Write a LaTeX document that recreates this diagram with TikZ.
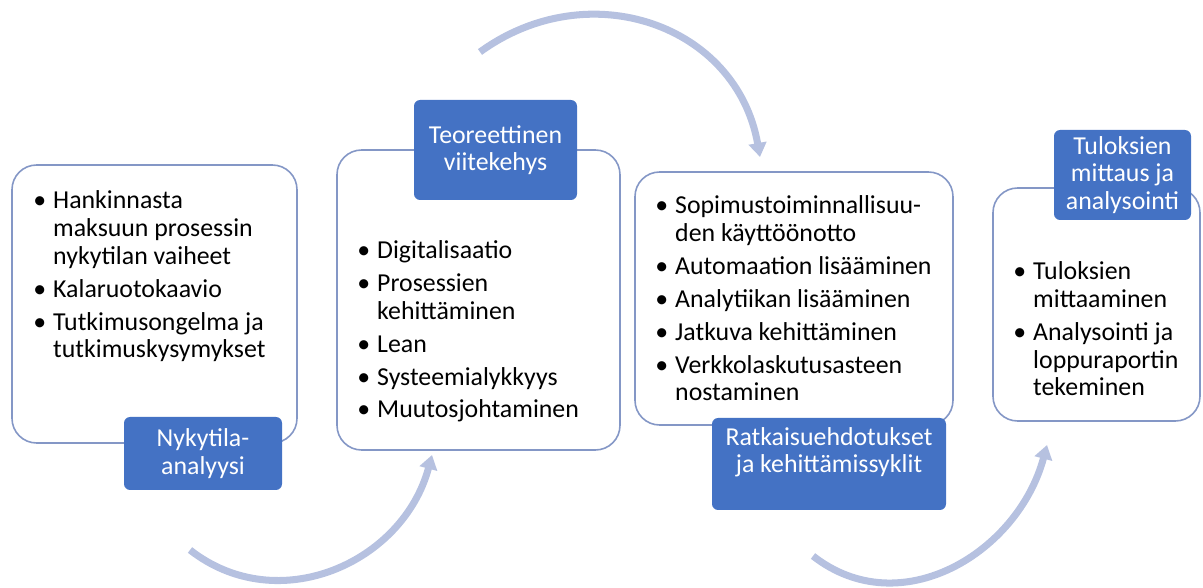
\documentclass[tikz,border=0pt]{standalone}
\usepackage{fontspec}
\setmainfont{Carlito}
\usepackage{tikz}
\usetikzlibrary{arrows.meta, positioning, calc}
\definecolor{cardline}{RGB}{132, 151, 198}
\definecolor{tagblue}{RGB}{68, 114, 196}
\definecolor{cyclearrow}{RGB}{182, 193, 224}

\newcommand{\bitem}{\textbullet\hspace{0.14cm}}
\newcommand{\bcont}{\hphantom{\textbullet}\hspace{0.14cm}}

\tikzset{
    card/.style={draw=cardline, fill=white, rounded corners=14pt, line width=0.9pt},
    tag/.style={fill=tagblue, draw=none, rounded corners=3.5pt, text=white, align=center,
                font=\fontsize{14.7}{15.7}\selectfont},
    itemlist/.style={inner sep=0pt, anchor=base west, align=left,
                font=\fontsize{14.7}{15.9}\selectfont},
    cycle arrow/.style={draw=cyclearrow, line width=4pt,
                -{Triangle[width=10pt, length=8pt]}}
}

\begin{document}
\begin{tikzpicture}
    \useasboundingbox (0,0) rectangle (24.06,-11.76);

    % Block 1: Nykytila-analyysi
    \node[card, minimum width=5.70cm, minimum height=5.56cm] (b1) at (3.09, -6.08) {};
    \node[itemlist] (t1) at (0.66, -7.16) {%
        \bitem Hankinnasta\\ \bcont maksuun prosessin\\ \bcont nykytilan vaiheet\\[2.8pt]
        \bitem Kalaruotokaavio\\[2.8pt]
        \bitem Tutkimusongelma ja\\ \bcont tutkimuskysymykset};
    \node[tag, minimum width=3.16cm, minimum height=1.46cm] (l1) at (4.06, -9.07)
        {Nykytila-\\analyysi};

    % Block 2: Teoreettinen viitekehys
    \node[card, minimum width=5.66cm, minimum height=6.00cm] (b2) at (9.57, -6.00) {};
    \node[itemlist] (t2) at (7.14, -8.36) {%
        \bitem Digitalisaatio\\[2.8pt]
        \bitem Prosessien\\ \bcont kehittäminen\\[2.8pt]
        \bitem Lean\\[2.8pt]
        \bitem Systeemialykkyys\\[2.8pt]
        \bitem Muutosjohtaminen};
    \node[tag, minimum width=3.26cm, minimum height=2.00cm] (l2) at (9.91, -3.00)
        {Teoreettinen\\viitekehys};

    % Block 3: Ratkaisuehdotukset ja kehittämissyklit
    \node[card, minimum width=6.36cm, minimum height=5.06cm] (b3) at (15.88, -5.97) {};
    \node[itemlist] (t3) at (13.10, -8.02) {%
        \bitem Sopimustoiminnallisuu-\\ \bcont den käyttöönotto\\[2.8pt]
        \bitem Automaation lisääminen\\[2.8pt]
        \bitem Analytiikan lisääminen\\[2.8pt]
        \bitem Jatkuva kehittäminen\\[2.8pt]
        \bitem Verkkolaskutusasteen\\ \bcont nostaminen};
    \node[tag, minimum width=4.68cm, minimum height=1.84cm] (l3) at (16.58, -9.28)
        {Ratkaisuehdotukset\\ja kehittämissyklit\\ \mbox{}};

    % Block 4: Tuloksien mittaus ja analysointi
    \node[card, minimum width=4.14cm, minimum height=4.66cm] (b4) at (21.93, -6.09) {};
    \node[itemlist] (t4) at (20.26, -7.92) {%
        \bitem Tuloksien\\ \bcont mittaaminen\\[2.8pt]
        \bitem Analysointi ja\\ \bcont loppuraportin\\ \bcont tekeminen};
    \node[tag, minimum width=2.74cm, minimum height=1.80cm] (l4) at (22.45, -3.50)
        {Tuloksien\\mittaus ja\\analysointi};

    % Kiertonuolet
    \coordinate (a1s) at (3.80, -11.00);
    \coordinate (a1e) at (8.64, -9.10);
    \coordinate (a2s) at (9.60, -1.04);
    \coordinate (a2e) at (15.20, -3.14);
    \coordinate (a3s) at (16.26, -11.12);
    \coordinate (a3e) at (20.94, -8.90);
    \draw[cycle arrow] (a1s) to[out=-38, in=-105, looseness=1.1] (a1e);
    \draw[cycle arrow] (a2s) to[out=36, in=100, looseness=1.15] (a2e);
    \draw[cycle arrow] (a3s) to[out=-38, in=-105, looseness=1.1] (a3e);
\end{tikzpicture}
\end{document}
